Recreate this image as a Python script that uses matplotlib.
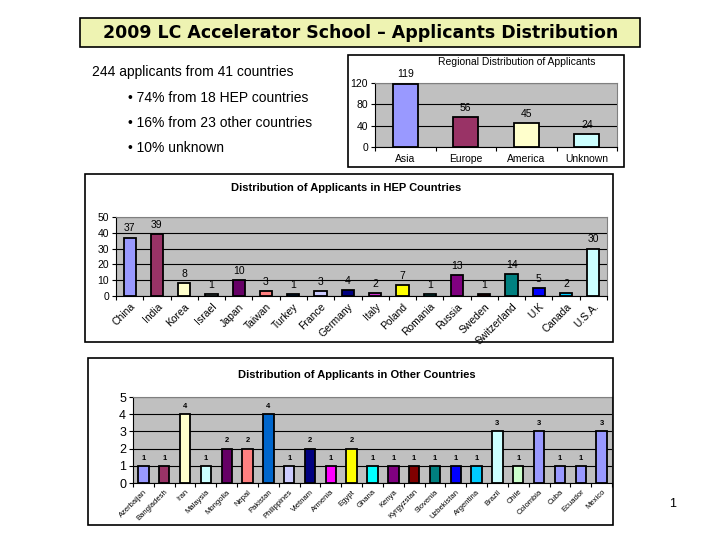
import numpy as np
import matplotlib
matplotlib.use("Agg")
import matplotlib.pyplot as plt
from matplotlib.patches import Rectangle

plt.rcParams['font.family'] = ['Liberation Sans', 'DejaVu Sans']

# Regional data
regions = ["Asia", "Europe", "America", "Unknown"]
region_counts = [119, 56, 45, 24]
region_colors = ["#9999ff", "#993366", "#ffffcc", "#ccffff"]

# HEP countries
hep_countries = ["China", "India", "Korea", "Israel", "Japan", "Taiwan", "Turkey",
                 "France", "Germany", "Italy", "Poland", "Romania", "Russia", "Sweden",
                 "Switzerland", "U.K", "Canada", "U.S.A."]
hep_counts = [37, 39, 8, 1, 10, 3, 1, 3, 4, 2, 7, 1, 13, 1, 14, 5, 2, 30]
hep_colors = ["#9999ff", "#993366", "#ffffcc", "#ccffff", "#660066", "#ff8080",
              "#0066cc", "#ccccff", "#000080", "#cc33cc", "#ffff00", "#00ffff",
              "#800080", "#800000", "#008080", "#0000ff", "#00ccff", "#ccffff"]

# Other countries
other_countries = ["Azerbaijan", "Bangladesh", "Iran", "Malaysia", "Mongolia", "Nepal",
                   "Pakistan", "Philippines", "Vietnam", "Armenia", "Egypt", "Ghana",
                   "Kenya", "Kyrgyzstan", "Slovenia", "Uzbekistan", "Argentina", "Brazil",
                   "Chile", "Colombia", "Cuba", "Ecuador", "Mexico"]
other_counts = [1, 1, 4, 1, 2, 2, 4, 1, 2, 1, 2, 1, 1, 1, 1, 1, 1, 3, 1, 3, 1, 1, 3]
other_colors = ["#9999ff", "#993366", "#ffffcc", "#ccffff", "#660066", "#ff8080",
                "#0066cc", "#ccccff", "#000080", "#ff00ff", "#ffff00", "#00ffff",
                "#800080", "#800000", "#008080", "#0000ff", "#00ccff", "#ccffff",
                "#ccffcc", "#9999ff", "#9999ff", "#9999ff", "#9999ff"]

W, H = 720, 540
fig = plt.figure(figsize=(7.2, 5.4), dpi=100)


def px_axes(x0, y0, x1, y1):
    return fig.add_axes([x0 / W, 1 - y1 / H, (x1 - x0) / W, (y1 - y0) / H])


def frame(x0, y0, x1, y1, fc="none"):
    fig.patches.append(Rectangle((x0 / W, 1 - y1 / H), (x1 - x0) / W, (y1 - y0) / H,
                                 transform=fig.transFigure, fill=fc != "none",
                                 facecolor=fc, edgecolor="black", lw=1.2))


def bar_chart(ax, names, vals, colors, ymax, yticks, width, lab_size, tick_size,
              ysize, rot=45, bold_labels=False):
    n = len(vals)
    x = np.arange(n)
    bars = ax.bar(x, vals, width=width, color=colors, edgecolor="black", lw=1.3, zorder=3)
    ax.set_facecolor("#c0c0c0")
    ax.set_xlim(-0.5, n - 0.5)
    ax.set_ylim(0, ymax)
    ax.set_yticks(yticks)
    ax.tick_params(axis="y", labelsize=ysize, length=3, pad=2)
    ax.yaxis.grid(True, color="black", lw=0.8, zorder=1)
    # tick marks between categories, labels centred under bars
    ax.set_xticks(np.arange(n + 1) - 0.5)
    ax.set_xticklabels([])
    ax.tick_params(axis="x", which="major", length=3, direction="out")
    ax.set_xticks(x, minor=True)
    ax.set_xticklabels(names, minor=True, rotation=rot, ha="right" if rot else "center",
                       va="top", rotation_mode="anchor" if rot else "default",
                       fontsize=tick_size)
    ax.tick_params(axis="x", which="minor", length=0, pad=4 if rot else 5)
    for s in ["top", "right"]:
        ax.spines[s].set_color("#808080")
    ax.bar_label(bars, padding=3, fontsize=lab_size,
                 fontweight="bold" if bold_labels else "normal")
    return ax


# Title box
frame(80, 18, 640, 47, fc="#eef3b2")
fig.text(361 / W, 1 - 33 / H, "2009 LC Accelerator School \u2013 Applicants Distribution",
         ha="center", va="center", fontsize=12.5, fontweight="bold", family="DejaVu Sans")

# Summary text
fig.text(92 / W, 1 - 72 / H, "244 applicants from 41 countries", ha="left", va="center",
         fontsize=10)
bullets = ["74% from 18 HEP countries", "16% from 23 other countries", "10% unknown"]
for i, b in enumerate(bullets):
    fig.text(128 / W, 1 - (98 + 25 * i) / H, "\u2022 " + b, ha="left", va="center",
             fontsize=10)

# Regional chart
frame(348, 55, 624, 167)
ax1 = px_axes(375, 83, 617, 147)
bar_chart(ax1, regions, region_counts, region_colors, 120, [0, 40, 80, 120], 0.42,
          7.5, 7.5, 7.5, rot=0)
fig.text(517 / W, 1 - 62 / H, "Regional Distribution of Applicants", ha="center",
         va="center", fontsize=7.5)

# HEP chart
frame(85, 174, 613, 342)
ax2 = px_axes(116, 217, 607, 296)
bar_chart(ax2, hep_countries, hep_counts, hep_colors, 50, [0, 10, 20, 30, 40, 50], 0.45,
          7.5, 7.5, 7.5)
fig.text(346 / W, 1 - 188 / H, "Distribution of Applicants in HEP Countries", ha="center",
         va="center", fontsize=8, fontweight="bold")

# Other chart
frame(88, 358, 613, 525)
ax3 = px_axes(133, 397, 612, 483)
bar_chart(ax3, other_countries, other_counts, other_colors, 5, [0, 1, 2, 3, 4, 5], 0.5,
          5.5, 5.5, 9, bold_labels=True)
fig.text(357 / W, 1 - 375 / H, "Distribution of Applicants in Other Countries", ha="center",
         va="center", fontsize=8, fontweight="bold")

# Page number
fig.text(673 / W, 1 - 504 / H, "1", ha="center", va="center", fontsize=9)

fig.savefig("out.png", dpi=100)
